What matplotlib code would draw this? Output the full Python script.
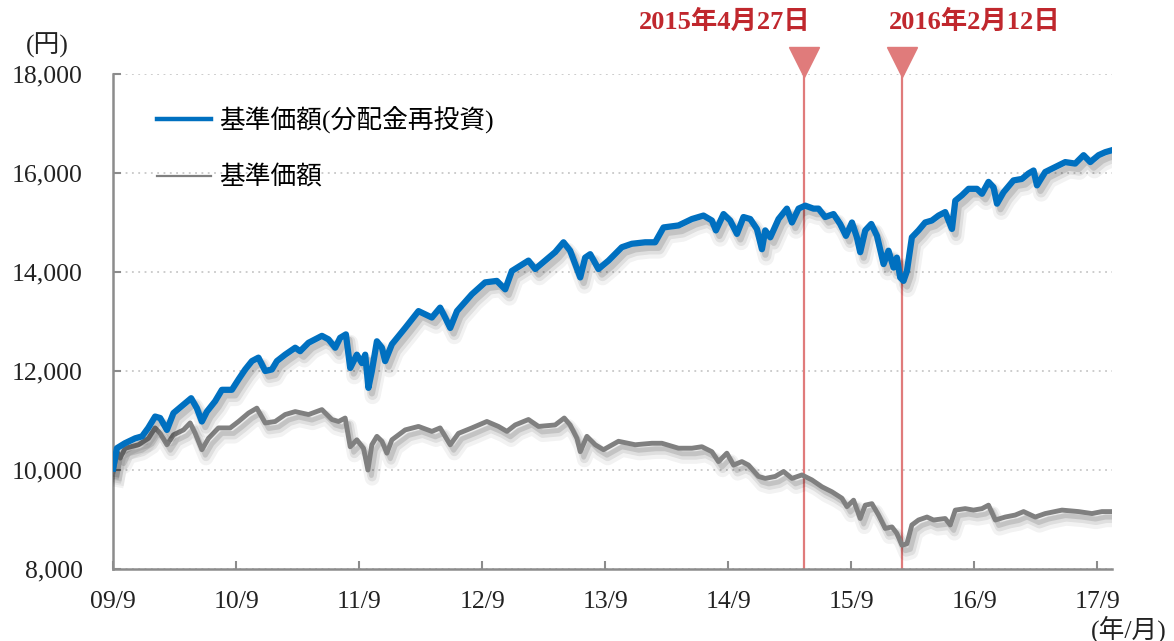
import datetime as dt
import matplotlib
matplotlib.use("Agg")
import matplotlib.pyplot as plt
import matplotlib.patheffects as pe
from matplotlib.lines import Line2D
from matplotlib.ticker import FuncFormatter

plt.rcParams["font.family"] = ["Liberation Serif", "Noto Sans CJK JP"]

# x = decimal year, y = yen
reinv_x = [2009.705, 2009.735, 2009.80, 2009.884, 2009.94, 2009.99, 2010.046, 2010.087, 2010.142,
           2010.195, 2010.277, 2010.339, 2010.385, 2010.426, 2010.467, 2010.534, 2010.589, 2010.67,
           2010.724, 2010.778, 2010.833, 2010.886, 2010.941, 2010.995, 2011.036, 2011.103, 2011.185,
           2011.225, 2011.293, 2011.402, 2011.455, 2011.51, 2011.55, 2011.597, 2011.632, 2011.686,
           2011.727, 2011.754, 2011.78, 2011.808, 2011.849, 2011.89, 2011.916, 2011.971, 2012.079,
           2012.187, 2012.296, 2012.363, 2012.404, 2012.445, 2012.5, 2012.621, 2012.729, 2012.824,
           2012.892, 2012.946, 2013.081, 2013.136, 2013.217, 2013.298, 2013.366, 2013.42, 2013.461,
           2013.502, 2013.542, 2013.583, 2013.65, 2013.732, 2013.84, 2013.922, 2014.03, 2014.111,
           2014.179, 2014.301, 2014.41, 2014.504, 2014.572, 2014.605, 2014.667, 2014.721, 2014.776,
           2014.829, 2014.884, 2014.938, 2014.979, 2015.006, 2015.047, 2015.114, 2015.182, 2015.223,
           2015.277, 2015.331, 2015.398, 2015.439, 2015.493, 2015.561, 2015.615, 2015.662, 2015.711,
           2015.751, 2015.778, 2015.819, 2015.868, 2015.914, 2015.968, 2016.008, 2016.049, 2016.076,
           2016.103, 2016.13, 2016.158, 2016.198, 2016.252, 2016.306, 2016.361, 2016.415, 2016.469,
           2016.496, 2016.524, 2016.551, 2016.605, 2016.659, 2016.727, 2016.768, 2016.821, 2016.862,
           2016.89, 2016.943, 2017.024, 2017.093, 2017.146, 2017.187, 2017.215, 2017.282, 2017.363,
           2017.445, 2017.526, 2017.594, 2017.648, 2017.716, 2017.77, 2017.825]
reinv_y = [10030, 10440, 10540, 10640, 10680, 10850, 11080, 11050, 10810,
           11150, 11320, 11450, 11250, 10980, 11180, 11390, 11620, 11620,
           11830, 12030, 12200, 12270, 12000, 12030, 12200, 12330, 12470,
           12400, 12570, 12710, 12640, 12470, 12670, 12740, 12060, 12330,
           12160, 12330, 11660, 12000, 12600, 12470, 12200, 12540, 12870,
           13210, 13080, 13280, 13080, 12870, 13210, 13550, 13790, 13820,
           13650, 14020, 14230, 14060, 14230, 14400, 14600, 14430, 14160,
           13890, 14290, 14360, 14060, 14230, 14500, 14570, 14600, 14600,
           14900, 14940, 15070, 15140, 15040, 14840, 15170, 15040, 14770,
           15110, 15070, 14870, 14460, 14840, 14700, 15070, 15280, 15000,
           15280, 15340, 15280, 15280, 15110, 15170, 14970, 14730, 15000,
           14700, 14400, 14840, 14970, 14730, 14160, 14430, 14090, 14290,
           13890, 13820, 14020, 14700, 14840, 15000, 15040, 15140, 15210,
           15040, 14870, 15440, 15550, 15680, 15680, 15580, 15820, 15710,
           15380, 15610, 15850, 15880, 15990, 16050, 15750, 16020, 16120,
           16220, 16190, 16360, 16220, 16360, 16420, 16460]

nav_x = [2009.705, 2009.735, 2009.762, 2009.802, 2009.911, 2009.992, 2010.046, 2010.087, 2010.142,
         2010.195, 2010.277, 2010.331, 2010.372, 2010.426, 2010.48, 2010.561, 2010.656, 2010.724,
         2010.805, 2010.873, 2010.941, 2011.022, 2011.103, 2011.185, 2011.293, 2011.402, 2011.483,
         2011.537, 2011.591, 2011.632, 2011.686, 2011.74, 2011.776, 2011.808, 2011.849, 2011.89,
         2011.93, 2011.971, 2012.079, 2012.187, 2012.296, 2012.363, 2012.445, 2012.512, 2012.621,
         2012.743, 2012.837, 2012.906, 2012.973, 2013.081, 2013.163, 2013.298, 2013.372, 2013.42,
         2013.475, 2013.502, 2013.556, 2013.624, 2013.691, 2013.813, 2013.949, 2014.085, 2014.166,
         2014.301, 2014.41, 2014.491, 2014.572, 2014.626, 2014.694, 2014.748, 2014.816, 2014.87,
         2014.951, 2015.006, 2015.087, 2015.155, 2015.223, 2015.304, 2015.385, 2015.467, 2015.548,
         2015.629, 2015.67, 2015.724, 2015.778, 2015.819, 2015.873, 2015.927, 2015.981, 2016.036,
         2016.076, 2016.117, 2016.158, 2016.198, 2016.252, 2016.321, 2016.374, 2016.469, 2016.51,
         2016.551, 2016.632, 2016.699, 2016.768, 2016.821, 2016.876, 2016.957, 2017.038, 2017.106,
         2017.201, 2017.282, 2017.418, 2017.553, 2017.662, 2017.743, 2017.825]
nav_y = [9970, 10370, 10240, 10440, 10510, 10640, 10850, 10740, 10510,
         10710, 10810, 10950, 10740, 10410, 10640, 10850, 10850, 10980,
         11150, 11250, 10950, 10980, 11120, 11180, 11120, 11220, 11020,
         10980, 11050, 10470, 10610, 10440, 10000, 10510, 10680, 10580,
         10340, 10610, 10810, 10880, 10780, 10850, 10510, 10740, 10850,
         10980, 10880, 10780, 10910, 11020, 10880, 10910, 11050, 10910,
         10640, 10370, 10680, 10510, 10410, 10580, 10510, 10540, 10540,
         10440, 10440, 10470, 10370, 10170, 10340, 10100, 10170, 10100,
         9870, 9830, 9870, 9970, 9830, 9900, 9800, 9660, 9560,
         9430, 9260, 9390, 9020, 9290, 9320, 9090, 8820, 8850,
         8720, 8480, 8510, 8890, 8990, 9050, 8990, 9020, 8890,
         9190, 9220, 9190, 9220, 9290, 8990, 9050, 9090, 9160,
         9050, 9120, 9190, 9160, 9120, 9160, 9160]

tick_years = [2009, 2010, 2011, 2012, 2013, 2014, 2015, 2016, 2017]
tick_labels = ["09/9", "10/9", "11/9", "12/9", "13/9", "14/9", "15/9", "16/9", "17/9"]
event_dates = ["2015-04-27", "2016-02-12"]
event_labels = ["2015年4月27日", "2016年2月12日"]
event_text_dx = [-79, 73]   # label offset from the line, pixels

BLUE = "#0070C0"
GRAY = "#808080"
RED_LINE = "#E07B7B"
RED_TEXT = "#C0272D"
AXIS = "#8C8C8C"


def dec_year(d):
    d = dt.date.fromisoformat(d)
    start = dt.date(d.year, 1, 1)
    n = (dt.date(d.year + 1, 1, 1) - start).days
    return d.year + (d - start).days / n


def shadow(lw):
    # fake soft drop shadow: a few wide, faint layers
    return [pe.SimpleLineShadow(offset=(3, -6), shadow_color="black", alpha=0.05, linewidth=lw + 7),
            pe.SimpleLineShadow(offset=(3, -5), shadow_color="black", alpha=0.08, linewidth=lw + 3),
            pe.SimpleLineShadow(offset=(2.5, -4), shadow_color="black", alpha=0.12, linewidth=lw),
            pe.Normal()]


fig = plt.figure(figsize=(11.74, 6.41), dpi=100)
ax = fig.add_axes([0.0963, 0.1123, 0.8509, 0.7723])

ax.plot(nav_x, nav_y, color=GRAY, lw=3.5, solid_joinstyle="round",
        path_effects=shadow(3.5), zorder=3)
ax.plot(reinv_x, reinv_y, color=BLUE, lw=4.5, solid_joinstyle="round",
        path_effects=shadow(4.5), zorder=4)

for d, lab, dx in zip(event_dates, event_labels, event_text_dx):
    x = dec_year(d)
    ax.axvline(x, color=RED_LINE, lw=1.6, zorder=2)
    ax.plot([x], [18240], marker="v", ms=22, color=RED_LINE, clip_on=False, zorder=5)
    ax.annotate(lab, xy=(x, 1), xycoords=("data", "axes fraction"),
                xytext=(dx, 52), textcoords="offset pixels",
                ha="center", va="center", fontsize=19, fontweight="bold", color=RED_TEXT)

ax.set_xlim(reinv_x[0], reinv_x[-1])
ax.set_ylim(8000, 18000)
ax.set_xticks([y + dec_year("2001-09-15") - 2001 for y in tick_years])
ax.set_xticklabels(tick_labels)
ax.set_yticks(range(8000, 18001, 2000))
ax.yaxis.set_major_formatter(FuncFormatter(lambda v, p: f"{int(v):,}"))

ax.tick_params(axis="both", direction="in", length=6, width=1.5, color=AXIS,
               labelsize=18.5, labelcolor="#222222")
ax.tick_params(axis="y", pad=22)
ax.tick_params(axis="x", pad=16)

for s in ["top", "right"]:
    ax.spines[s].set_visible(False)
for s in ["left", "bottom"]:
    ax.spines[s].set_color(AXIS)
    ax.spines[s].set_linewidth(1.8)

ax.yaxis.grid(True, linestyle=(0, (1, 2.5)), color="#C8C8C8", lw=1.3)
ax.set_axisbelow(True)

handles = [Line2D([], [], color=BLUE, lw=3.2), Line2D([], [], color=GRAY, lw=1.6)]
ax.legend(handles, ["基準価額(分配金再投資)", "基準価額"], loc="upper left",
          bbox_to_anchor=(0.044, 0.935), frameon=False, fontsize=18.5,
          handlelength=2.1, handletextpad=0.3, labelspacing=1.25,
          borderpad=0, borderaxespad=0)

fig.text(47 / 1174, 1 - 45 / 641, "(円)", ha="center", va="center", fontsize=18.5, color="#222222")
fig.text(1129 / 1174, 1 - 629 / 641, "(年/月)", ha="center", va="center", fontsize=18.5, color="#222222")

fig.savefig("out.png", dpi=100)
